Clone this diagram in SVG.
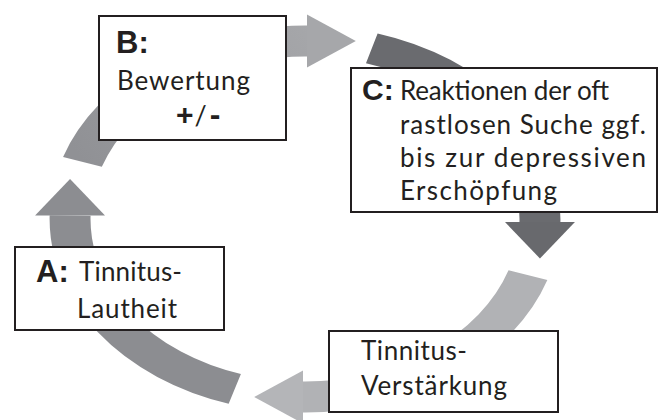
<svg xmlns="http://www.w3.org/2000/svg" width="659" height="420" viewBox="0 0 659 420">
  <defs>
    <linearGradient id="g2" gradientUnits="userSpaceOnUse" x1="-168" y1="-57" x2="38" y2="-178">
      <stop offset="0" stop-color="#909195"/>
      <stop offset="1" stop-color="#a8a9ac"/>
    </linearGradient>
    <style>
      .arc { fill: none; stroke-width: 31; stroke-linecap: butt; }
      .box { fill: #ffffff; stroke: #231f20; stroke-width: 2; }
      .lbl { font-family: "Liberation Sans", Arial, sans-serif; font-weight: bold; fill: #231f20; }
      .txt { font-family: Lato, "Open Sans", sans-serif; font-size: 26px; fill: #231f20; }
    </style>
  </defs>
  <rect width="659" height="420" fill="#ffffff"/>

  <g id="connectors" transform="translate(305,219) scale(1.32,1)">
    <!-- A -> B (left, upward) -->
    <g id="arrow-a-b">
      <path class="arc" stroke="#8c8d91" d="M -53.2 169.9 A 178 178 0 0 1 -177.95 -3.5"/>
      <polygon fill="#8c8d91" points="-204.5,-3.5 -178,-40 -151.5,-3.5"/>
    </g>
    <!-- B -> C (top, rightward) -->
    <g id="arrow-b-c">
      <path class="arc" stroke="url(#g2)" d="M -168.6 -57.1 A 178 178 0 0 1 2 -178"/>
      <polygon fill="#a6a7aa" points="1.5,-204.5 38.5,-178 1.5,-151.5"/>
    </g>
    <!-- C -> Verstaerkung (right, downward) -->
    <g id="arrow-c-d">
      <path class="arc" stroke="#6a6b6f" d="M 50.6 -170.7 A 178 178 0 0 1 177.97 3.6"/>
      <polygon fill="#68696d" points="151.5,3.1 178,39.5 204.5,3.1"/>
    </g>
    <!-- Verstaerkung -> A (bottom, leftward) -->
    <g id="arrow-d-a">
      <path class="arc" stroke="#b1b2b5" d="M 168.9 56.2 A 178 178 0 0 1 -2 178"/>
      <polygon fill="#b4b5b8" points="-1.5,151.5 -38.5,178 -1.5,204.5"/>
    </g>
  </g>

  <g id="node-b">
    <rect class="box" x="99" y="16" width="187" height="124"/>
    <text class="lbl" x="116" y="53" font-size="31">B:</text>
    <text class="txt" x="117" y="90" textLength="133" lengthAdjust="spacing">Bewertung</text>
    <text x="176" y="125" fill="#231f20"><tspan class="lbl" font-size="30">+</tspan><tspan font-family="Lato, sans-serif" font-size="27" dx="1">/</tspan><tspan class="lbl" font-size="32" dx="3">-</tspan></text>
  </g>

  <g id="node-c">
    <rect class="box" x="351" y="68" width="306" height="144"/>
    <text class="lbl" x="362" y="100" font-size="30">C:</text>
    <text class="txt" x="400" y="100" textLength="209" lengthAdjust="spacing">Reaktionen der oft</text>
    <text class="txt" x="400" y="134" textLength="246" lengthAdjust="spacing">rastlosen Suche ggf.</text>
    <text class="txt" x="400" y="167" textLength="246" lengthAdjust="spacing">bis zur depressiven</text>
    <text class="txt" x="400" y="200" textLength="157" lengthAdjust="spacing">Erschöpfung</text>
  </g>

  <g id="node-a">
    <rect class="box" x="15" y="247" width="209" height="83"/>
    <text class="lbl" x="36" y="282" font-size="31">A:</text>
    <text class="txt" x="79" y="281" textLength="103" lengthAdjust="spacing">Tinnitus-</text>
    <text class="txt" x="77" y="318" textLength="100" lengthAdjust="spacing">Lautheit</text>
  </g>

  <g id="node-d">
    <rect class="box" x="329" y="331" width="229" height="81"/>
    <text class="txt" x="361" y="360" textLength="106" lengthAdjust="spacing">Tinnitus-</text>
    <text class="txt" x="361" y="395" textLength="146" lengthAdjust="spacing">Verstärkung</text>
  </g>
</svg>
